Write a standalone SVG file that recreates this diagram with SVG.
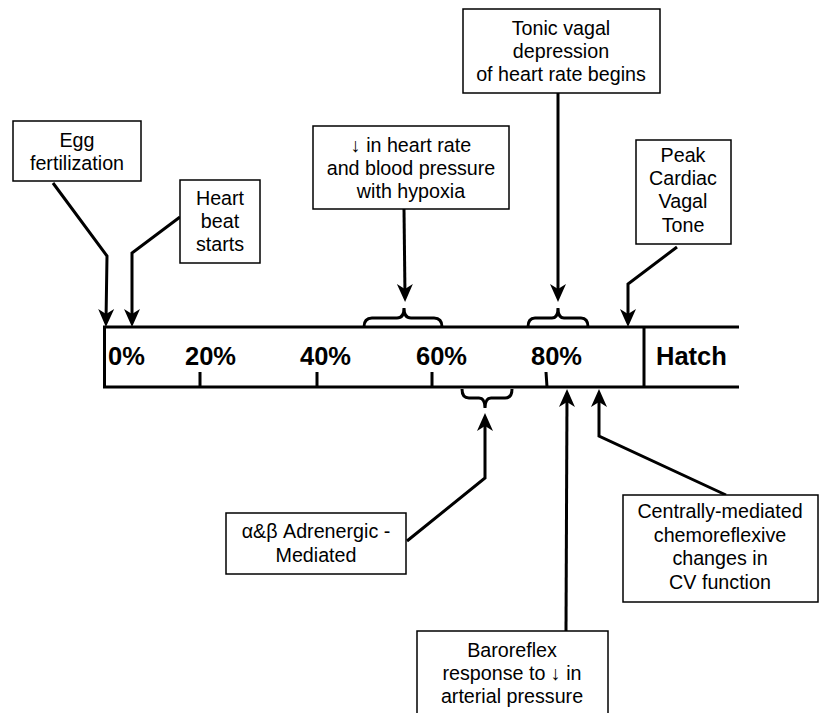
<svg xmlns="http://www.w3.org/2000/svg" width="819" height="713" viewBox="0 0 819 713">
<style>
.box{fill:#fff;stroke:#000;stroke-width:1.5}
.t{font-family:"Liberation Sans",Arial,sans-serif;font-size:19.7px;text-anchor:middle;fill:#000}
.b{font-family:"Liberation Sans",Arial,sans-serif;font-size:25.5px;font-weight:bold;fill:#000}
.ln{fill:none;stroke:#000;stroke-width:3}
.c{fill:none;stroke:#000;stroke-width:3;marker-end:url(#ah)}
</style>
<defs>
<marker id="ah" markerUnits="userSpaceOnUse" markerWidth="20" markerHeight="18" refX="12" refY="8" orient="auto" overflow="visible">
<path d="M18,8 L0,0 L5,8 L0,16 Z" fill="#000"/>
</marker>
</defs>
<rect width="819" height="713" fill="#fff"/>
<g id="timeline">
<path class="ln" d="M103,327 H739 M103,387 H739 M104.5,326 V388 M644,327 V387"/>
<path class="ln" d="M200,372 V387 M317,372 V387 M432,372 V387 M546,372 L547,387"/>
<text class="b" x="108" y="365">0%</text>
<text class="b" x="185" y="365">20%</text>
<text class="b" x="300" y="365">40%</text>
<text class="b" x="416" y="365">60%</text>
<text class="b" x="531" y="365">80%</text>
<text class="b" x="656" y="365">Hatch</text>
</g>
<g id="braces">
<path class="ln" d="M364,327 Q364,318 372,318 H397 Q404,318 404,308 Q404,318 411,318 H434 Q442,318 442,327"/>
<path class="ln" d="M528,327 Q528,318 535,318 H552 Q558,318 558,308 Q558,318 564,318 H581 Q588,318 588,327"/>
<path class="ln" d="M462,389 Q462,398 469,398 H479 Q485,398 485,408 Q485,398 491,398 H505 Q512,398 512,389"/>
</g>
<g id="connectors">
<path class="c" d="M53,183 L107,256 L106,321"/>
<path class="c" d="M180,217 L132,253 V321"/>
<path class="c" d="M404,209 L405,296"/>
<path class="c" d="M558,93 V296"/>
<path class="c" d="M677,247 L628,284 V321"/>
<path class="c" d="M407,541 L485,478 V419"/>
<path class="c" d="M566,631 L567,395"/>
<path class="c" d="M726,495 L599,436 V395"/>
</g>
<g id="egg">
<rect class="box" x="13" y="121" width="128" height="60"/>
<text class="t" x="77" y="147">Egg</text>
<text class="t" x="77" y="170">fertilization</text>
</g>
<g id="heartbeat">
<rect class="box" x="180" y="180" width="80" height="83"/>
<text class="t" x="220" y="205">Heart</text>
<text class="t" x="220" y="228">beat</text>
<text class="t" x="220" y="251">starts</text>
</g>
<g id="hypoxia">
<rect class="box" x="313" y="126" width="196" height="83"/>
<text class="t" x="411" y="152">↓  in heart rate</text>
<text class="t" x="411" y="175">and blood pressure</text>
<text class="t" x="411" y="198">with hypoxia</text>
</g>
<g id="tonic">
<rect class="box" x="463" y="9" width="197" height="84"/>
<text class="t" x="561" y="35">Tonic vagal</text>
<text class="t" x="561" y="58">depression</text>
<text class="t" x="561" y="81">of heart rate begins</text>
</g>
<g id="peak">
<rect class="box" x="636" y="140" width="95" height="104"/>
<text class="t" x="683" y="162">Peak</text>
<text class="t" x="683" y="185">Cardiac</text>
<text class="t" x="683" y="208">Vagal</text>
<text class="t" x="683" y="232">Tone</text>
</g>
<g id="adrenergic">
<rect class="box" x="226" y="513" width="180" height="61"/>
<text class="t" x="316" y="538">α&amp;β  Adrenergic -</text>
<text class="t" x="316" y="562">Mediated</text>
</g>
<g id="baroreflex">
<rect class="box" x="417" y="631" width="191" height="90"/>
<text class="t" x="512" y="657">Baroreflex</text>
<text class="t" x="512" y="680">response to ↓  in</text>
<text class="t" x="512" y="703">arterial pressure</text>
</g>
<g id="central">
<rect class="box" x="623" y="495" width="195" height="107"/>
<text class="t" x="720" y="518">Centrally-mediated</text>
<text class="t" x="720" y="542">chemoreflexive</text>
<text class="t" x="720" y="565">changes in</text>
<text class="t" x="720" y="589">CV function</text>
</g>
</svg>
